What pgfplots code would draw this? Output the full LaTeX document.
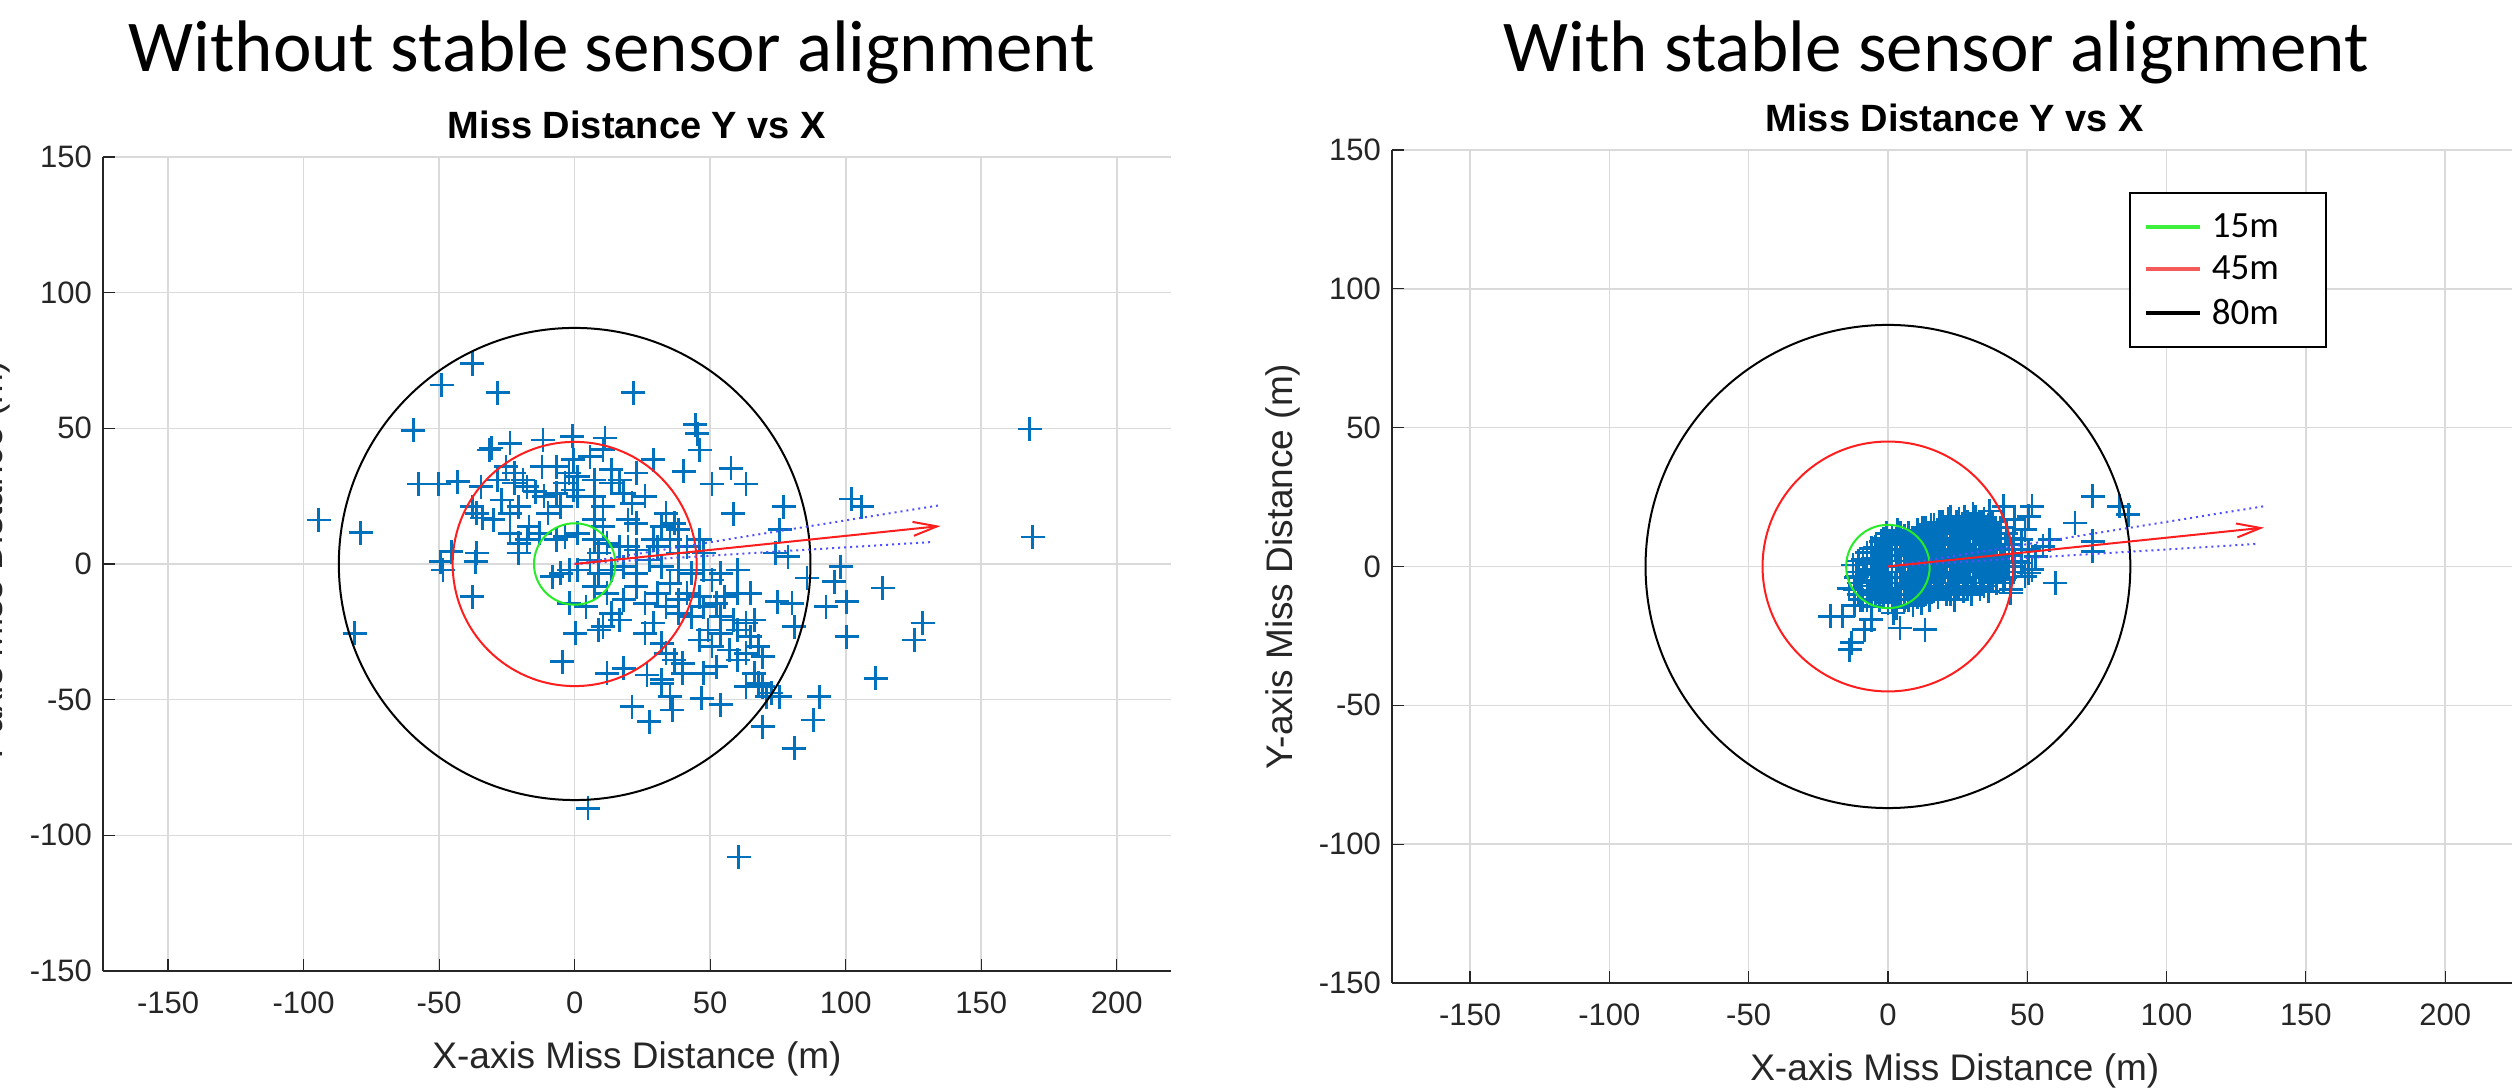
\documentclass[border=0pt]{standalone}
\usepackage{pgfplots}
\pgfplotsset{compat=1.18}
\usepackage{fontspec}
\setmainfont{Liberation Sans}
\newfontfamily\carlito{Carlito}
\usetikzlibrary{arrows.meta}

\definecolor{mblue}{RGB}{0,114,189}
\definecolor{axgray}{RGB}{38,38,38}
\definecolor{gridgray}{RGB}{218,218,218}
\definecolor{cgreen}{RGB}{40,235,40}
\definecolor{cred}{RGB}{255,30,30}
\definecolor{dblue}{RGB}{80,80,255}
\definecolor{lgreen}{RGB}{60,240,60}
\definecolor{lred}{RGB}{245,90,90}

% left panel: without alignment
\pgfplotstableread{
x y
-94.4 16.2
-78.9 11.6
-59.5 49.2
-49.1 66
-37.7 73.8
-28.4 63.2
21.6 63.2
-57.5 29.5
-50.2 29.5
-43.2 30.4
-30.8 42.7
-23.8 44.5
-11.7 45.7
-0.8 47
11.2 46.4
29 38.4
40.2 34.1
44.5 51.3
45.3 48
46.1 42
57.7 35.3
50.7 29.5
63.2 29.5
58.5 18.5
77.1 21.1
102 23.9
105.9 21.1
75.6 12.6
74 4
78.7 2.7
98.1 -1
85.7 -5.2
95.8 -6.5
113.6 -8.9
100.4 -13.9
92.7 -15.7
74.8 -13.9
80.2 -14.5
81 -23.1
128.4 -21.8
125.3 -28
100.4 -26.8
111 -42.1
90.3 -48.9
88 -57.5
69.4 -59.9
81 -67.9
70.9 -48.9
67.8 -44
63.2 -45.2
53.9 -51.9
46.9 -49.5
36 -53.8
27.5 -58.1
21.2 -52.6
11.9 -40.3
18.1 -38.4
26.7 -40.9
32.1 -44
-4.6 -36
4.9 -90
0.3 -25.5
8.8 -24.3
-2 -14.5
-8.2 -4.7
-37.7 -12
-81.2 -25.5
-49.4 0.9
-48.6 -2.2
-36.5 0.9
-45.5 4.6
167.8 49.8
169 10
60.5 -108
-37.7 21.1
-36.2 18.7
-34 17
-31.5 42
-25.3 35.9
-22.2 33.5
-17.6 28.5
-14.5 26.7
-28.4 31
-34.6 28.5
-26.9 23.6
-20.7 21.1
-16.8 13.8
-23.8 11.3
-20.7 7.6
-9.8 18.7
-6.7 26.1
-3.6 29.8
-0.5 27.3
1.1 24.9
-2.1 33.5
5.7 39.6
10.4 42.1
13.5 34.7
16.6 31
13.5 29.8
7.3 24.9
10.4 21.1
18.1 26.1
22.8 33.5
25.9 24.9
21.2 22.4
19.7 16.3
22.8 15
33.7 18.7
32.1 13.8
36.8 15
38.3 12.6
29 8.9
38.3 4
46.1 8.9
47.6 4
7.3 16.3
10.4 13.8
1.1 11.3
-3.6 10.1
-6.7 8.9
7.3 8.9
11.9 7.6
16.6 6.4
19.7 6.4
8.8 4
5.7 1.5
1.1 -2.2
-2 -2.2
-5.1 -3.4
8.8 -3.4
13.5 -2.2
18.1 -1
22.8 -3.4
27.5 1.5
32.1 -1
38.3 -2.2
43 -3.4
47.6 -2.2
53.9 -3.4
60.1 -2.2
50.7 -5.9
7.3 -8.3
11.9 -10.8
18.1 -13.2
22.8 -8.3
25.9 -14.5
30.6 -10.8
35.2 -7.1
38.3 -13.2
41.4 -10.8
46.1 -12
33.7 -15.7
38.3 -18.2
43 -19.4
47.6 -15.7
52.3 -14.5
55.4 -12
60.1 -10.8
64.8 -10.8
53.9 -19.4
58.5 -20.6
63.2 -21.8
66.3 -20.6
49.2 -24.3
53.9 -25.5
60.1 -24.3
64.8 -26.8
46.1 -28
50.7 -30.4
57 -31.7
63.2 -32.9
67.8 -30.4
69.4 -34.1
33.7 -32.9
36.8 -35.4
39.9 -36.6
32.1 -29.2
25.9 -25.5
29 -21.8
16.6 -20.6
13.5 -18.2
4.2 -15.7
10.4 -23.1
66.3 -40.3
69.4 -45.2
72.5 -47.6
60.1 -35.4
52.3 -37.8
47.6 -40.3
39.9 -40.3
35.2 -48.9
32.1 -42.7
75.6 -48.9
-22.2 29.8
-19.1 31
-12.1 35.9
-6.7 35.9
-0.5 38.4
1.1 32.2
7.3 31
-5.1 21.1
-11.3 24.9
-23.8 18.7
-30 16.3
-17.6 8.9
-12.9 11.3
-36.2 4
-20.7 4
35.2 8.9
41.4 6.4
22.8 5.2
30.6 6.4
}\leftdata

% right panel: with alignment
\pgfplotstableread{
x y
73.5 25.3
83.1 21.7
86.3 18.7
67.1 15.7
73.5 9.1
73.5 5.5
60.1 -5.9
58.1 9.7
51.7 21.7
50.5 18.1
41.5 21.7
47.9 1.3
51.7 -1.1
49.2 -3.5
44 -8.3
45.3 16.9
47.9 9.7
50.5 6.1
53 3.7
55.6 7.3
49.2 13.3
45.3 0.1
50.5 -2.3
41.5 -4.7
44 -9.5
-20.7 -17.9
-16.2 -17.9
-13 -27.5
-13.7 -29.9
-8.5 -22.7
-6 -19.1
4.3 -22.1
13.3 -22.7
1.9 -16.7
-9.8 -11.9
-11.1 -3.5
-14 -8
-12 -14
-12 -8.5
-11.5 -4
-12.5 0.5
-9 -12
-9.5 -6
-8.5 -2
-9 2.5
-6 -14.5
-6.5 -9
-5.5 -5
-6 -1
-5.5 3
-6 6.5
-3 -12
-3.5 -7
-2.5 -3
-3 1
-3.5 5
-2.5 9
0 -13
0.5 -9
-0.5 -4
0 0
0.5 4
0 8
-0.5 12
3 -15
3.5 -10
2.5 -6
3 -2
3.5 2
2.5 6
3 10
3.5 13
6 -12
6.5 -8
5.5 -4
6 0
6.5 4
5.5 8
6 11
9 -14
9.5 -10
8.5 -6
9 -2
9.5 2
8.5 6
9 10
12 -13
12.5 -9
11.5 -5
12 -1
12.5 3
11.5 7
12 11
12.5 14
15 -12
15.5 -8
14.5 -4
15 0
15.5 4
14.5 8
15 12
15.5 15
18 -11
18.5 -7
17.5 -3
18 1
18.5 5
17.5 9
18 13
18.5 16
21 -10
21.5 -6
20.5 -2
21 2
21.5 6
20.5 10
21 14
21.5 17
24 -12
24.5 -8
23.5 -4
24 0
24.5 4
23.5 8
24 12
24.5 16
27 -9
27.5 -5
26.5 -1
27 3
27.5 7
26.5 11
27 15
27.5 18
30 -10
30.5 -6
29.5 -2
30 2
30.5 6
29.5 10
30 14
30.5 19
33 -8
33.5 -4
32.5 0
33 4
33.5 8
32.5 12
33 16
36 -9
36.5 -5
35.5 -1
36 3
36.5 7
35.5 11
36 15
36.5 20
39 -6
39.5 -2
38.5 2
39 6
39.5 10
38.5 14
42 -4
42.5 0
41.5 4
42 8
42.5 12
45 -2
45.5 2
44.5 6
45 10
-10.5 -10
-10.5 -6
-10.5 -2
-10.5 2
-7.5 -12
-7.5 -7
-7.5 -3
-7.5 1
-7.5 5
-4.5 -10
-4.5 -5
-4.5 -1
-4.5 3
-4.5 7
-1.5 -11
-1.5 -6
-1.5 -2
-1.5 2
-1.5 6
-1.5 10
1.5 -12
1.5 -8
1.5 -4
1.5 0
1.5 4
1.5 8
1.5 11
4.5 -10
4.5 -6
4.5 -2
4.5 2
4.5 6
4.5 9
4.5 12
7.5 -12
7.5 -8
7.5 -4
7.5 0
7.5 4
7.5 8
7.5 12
10.5 -11
10.5 -7
10.5 -3
10.5 1
10.5 5
10.5 9
10.5 13
13.5 -10
13.5 -6
13.5 -2
13.5 2
13.5 6
13.5 10
13.5 14
16.5 -9
16.5 -5
16.5 -1
16.5 3
16.5 7
16.5 11
16.5 15
19.5 -8
19.5 -4
19.5 0
19.5 4
19.5 8
19.5 12
19.5 16
22.5 -10
22.5 -6
22.5 -2
22.5 2
22.5 6
22.5 10
22.5 14
22.5 18
25.5 -7
25.5 -3
25.5 1
25.5 5
25.5 9
25.5 13
25.5 17
28.5 -8
28.5 -4
28.5 0
28.5 4
28.5 8
28.5 12
28.5 16
31.5 -6
31.5 -2
31.5 2
31.5 6
31.5 10
31.5 14
31.5 18
34.5 -7
34.5 -3
34.5 1
34.5 5
34.5 9
34.5 13
34.5 17
37.5 -4
37.5 0
37.5 4
37.5 8
37.5 12
37.5 16
40.5 -2
40.5 2
40.5 6
40.5 10
40.5 14
43.5 0
43.5 4
43.5 8
}\rightdata

\pgfplotsset{
  missplot/.style={
    scale only axis, anchor=south west,
    ymin=-150, ymax=150,
    axis x line*=bottom, axis y line*=left,
    axis line style={draw=axgray, line width=1pt},
    tick align=inside, major tick length=6pt,
    tick style={draw=axgray, line width=0.6pt},
    xtick={-150,-100,...,200}, ytick={-150,-100,...,150},
    grid=major, major grid style={draw=gridgray, line width=0.8pt},
    ticklabel style={font=\fontsize{15.5}{18}\selectfont, text=axgray},
    /pgf/number format/assume math mode=true,
    xticklabel style={yshift=-7pt},
    yticklabel style={xshift=-2pt},
    xlabel={X-axis Miss Distance (m)},
    ylabel={Y-axis Miss Distance (m)},
    label style={font=\fontsize{18.5}{22}\selectfont, text=axgray},
    xlabel style={at={(axis description cs:0.5,0)}, anchor=base, yshift=-49pt},
    ylabel style={at={(axis description cs:0,0.5)}, anchor=base, rotate=0, yshift=50pt},
    title={Miss Distance Y vs X},
    title style={font=\bfseries\fontsize{19}{22}\selectfont, at={(axis description cs:0.5,1)}, anchor=base, yshift=3pt},
    clip mode=individual,
  },
  pts/.style={only marks, mark=+, mark size=6pt, color=mblue, mark options={line width=1.35pt}, forget plot},
}

\newcommand{\overlays}{%
  \draw[cgreen, line width=1pt] (axis cs:0,0) circle[radius=15];
  \draw[cred, line width=1pt] (axis cs:0,0) circle[radius=45];
  \draw[black, line width=1pt] (axis cs:0,0) circle[radius=87];
  \addplot[dblue, dotted, line width=1pt, forget plot] coordinates {(0,0) (135,21.7)};
  \addplot[dblue, dotted, line width=1pt, forget plot] coordinates {(0,0) (132,8.1)};
  \addplot[cred, line width=1pt, -{Straight Barb[length=12pt, width=7pt]}, forget plot] coordinates {(0,0) (135,14)};
}

\begin{document}
\begin{tikzpicture}
\useasboundingbox (0,0) rectangle (1256pt,545pt);

\node[font=\carlito\fontsize{36.5}{40}\selectfont, anchor=base] at (306pt,509pt) {Without stable sensor alignment};
\node[font=\carlito\fontsize{36.5}{40}\selectfont, anchor=base] at (968pt,509pt) {With stable sensor alignment};

\begin{axis}[missplot,
  at={(51.5pt,59.5pt)}, width=534pt, height=407pt,
  xmin=-174, xmax=220]
  \addplot[pts] table {\leftdata};
  \overlays
\end{axis}

\begin{axis}[missplot,
  at={(696pt,53.5pt)}, width=562.8pt, height=416.5pt,
  xmin=-178, xmax=226,
  legend style={at={(axis cs:86.5,134.7)}, anchor=north west, draw=black, line width=0.8pt,
    fill=white, font=\carlito\fontsize{18.5}{20}\selectfont,
    inner xsep=7pt, inner ysep=8pt, row sep=4pt, column sep=3pt,
    nodes={inner sep=2pt}},
  legend cell align=left,
  legend image code/.code={\draw[#1, line width=2pt] (0pt,0pt) -- (27pt,0pt);}]
  \addplot[pts] table {\rightdata};
  \overlays
  \addlegendimage{lgreen}
  \addlegendentry{\makebox[48pt][l]{15m}}
  \addlegendimage{lred}
  \addlegendentry{\makebox[48pt][l]{45m}}
  \addlegendimage{black}
  \addlegendentry{\makebox[48pt][l]{80m}}
\end{axis}
\end{tikzpicture}
\end{document}
